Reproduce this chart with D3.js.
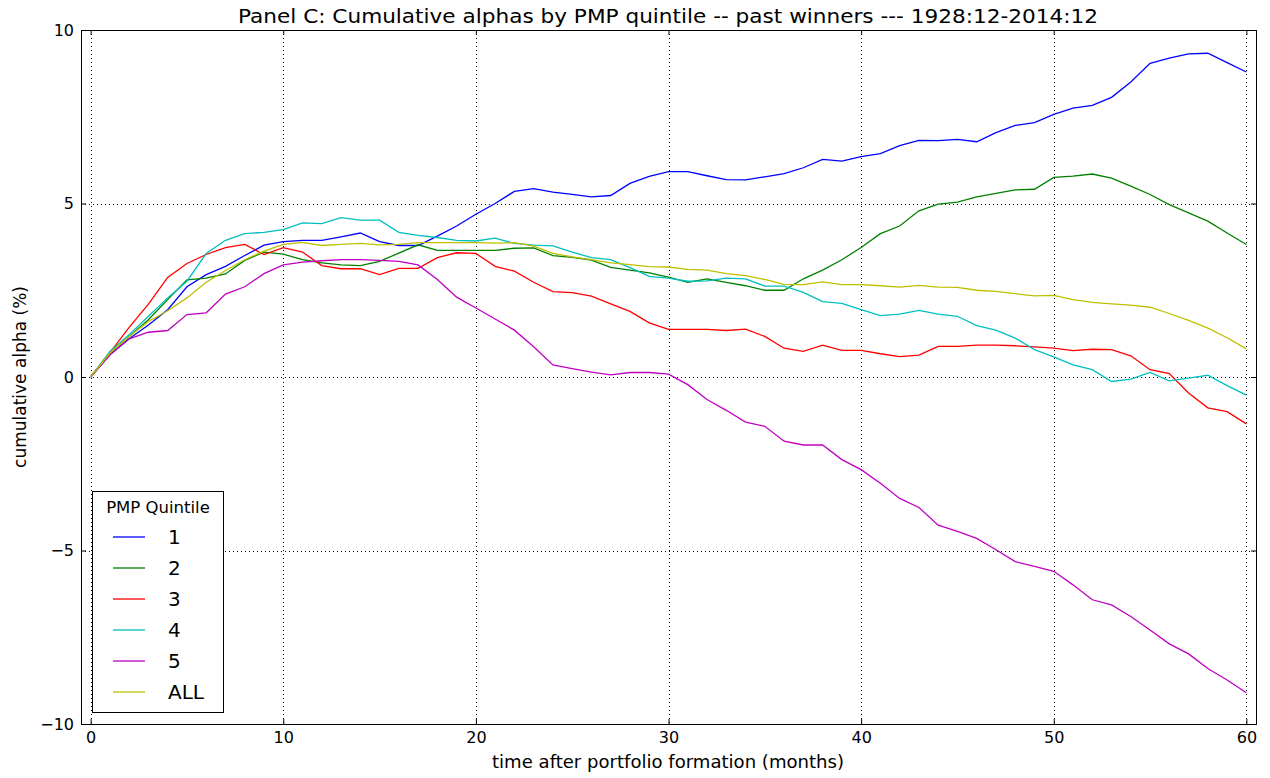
<!DOCTYPE html>
<html>
<head>
<meta charset="utf-8">
<script src="https://cdn.jsdelivr.net/npm/d3@7"></script>
<style>
  body { margin: 0; background: #fff; }
  svg { font-family: "DejaVu Sans", sans-serif; }
</style>
</head>
<body>
<svg width="1270" height="778"></svg>
<script>
var months = d3.range(0, 61);

var q1 = [0, 0.64, 1.1, 1.5, 1.94, 2.6, 2.95, 3.19, 3.5, 3.8, 3.9, 3.94, 3.94, 4.04, 4.15, 3.9,
  3.79, 3.79, 4.06, 4.35, 4.69, 5.0, 5.35, 5.43, 5.33, 5.26, 5.19, 5.23, 5.58, 5.78, 5.92,
  5.92, 5.8, 5.69, 5.68, 5.77, 5.86, 6.03, 6.27, 6.22, 6.35, 6.44, 6.67, 6.82, 6.81, 6.85,
  6.78, 7.04, 7.25, 7.33, 7.57, 7.75, 7.83, 8.06, 8.5, 9.04, 9.19, 9.31, 9.33, 9.06, 8.79];

var q2 = [0, 0.69, 1.17, 1.65, 2.23, 2.8, 2.85, 2.97, 3.36, 3.6, 3.54, 3.38, 3.29, 3.23, 3.21, 3.33,
  3.57, 3.81, 3.65, 3.65, 3.65, 3.65, 3.71, 3.72, 3.5, 3.45, 3.37, 3.16, 3.08, 3.0, 2.88,
  2.73, 2.83, 2.73, 2.63, 2.5, 2.5, 2.83, 3.08, 3.38, 3.73, 4.13, 4.35, 4.79, 4.98, 5.04,
  5.19, 5.29, 5.39, 5.41, 5.75, 5.79, 5.85, 5.73, 5.5, 5.26, 4.97, 4.73, 4.49, 4.15, 3.82];

var q3 = [0, 0.7, 1.43, 2.1, 2.87, 3.27, 3.53, 3.73, 3.82, 3.53, 3.73, 3.6, 3.21, 3.12, 3.12, 2.95,
  3.13, 3.13, 3.44, 3.58, 3.56, 3.19, 3.05, 2.73, 2.46, 2.43, 2.33, 2.11, 1.89, 1.56, 1.37,
  1.37, 1.37, 1.34, 1.38, 1.17, 0.83, 0.74, 0.92, 0.77, 0.77, 0.67, 0.59, 0.63, 0.88, 0.88,
  0.92, 0.92, 0.9, 0.87, 0.83, 0.76, 0.8, 0.79, 0.61, 0.21, 0.1, -0.46, -0.89, -1.0, -1.35];

var q4 = [0, 0.74, 1.22, 1.75, 2.28, 2.76, 3.56, 3.94, 4.13, 4.17, 4.25, 4.44, 4.42, 4.59, 4.52, 4.52,
  4.17, 4.08, 4.02, 3.94, 3.92, 4.0, 3.85, 3.8, 3.78, 3.6, 3.44, 3.38, 3.15, 2.9, 2.85,
  2.76, 2.77, 2.85, 2.83, 2.62, 2.62, 2.44, 2.17, 2.12, 1.94, 1.77, 1.81, 1.92, 1.81, 1.75,
  1.48, 1.35, 1.12, 0.79, 0.58, 0.35, 0.21, -0.13, -0.06, 0.13, -0.11, -0.03, 0.05, -0.25, -0.52];

var q5 = [0, 0.64, 1.1, 1.29, 1.34, 1.8, 1.85, 2.39, 2.6, 2.98, 3.23, 3.31, 3.35, 3.38, 3.38, 3.36,
  3.33, 3.23, 2.81, 2.3, 1.99, 1.67, 1.35, 0.87, 0.35, 0.24, 0.14, 0.06, 0.13, 0.13, 0.08,
  -0.22, -0.65, -0.96, -1.3, -1.42, -1.85, -1.96, -1.96, -2.38, -2.67, -3.06, -3.5, -3.76, -4.27, -4.45,
  -4.65, -4.98, -5.32, -5.46, -5.6, -5.99, -6.42, -6.57, -6.9, -7.29, -7.69, -7.98, -8.4, -8.73, -9.1];

var qAll = [0, 0.69, 1.17, 1.6, 1.91, 2.28, 2.73, 3.07, 3.38, 3.63, 3.82, 3.88, 3.79, 3.82, 3.85, 3.81,
  3.82, 3.87, 3.87, 3.87, 3.87, 3.86, 3.87, 3.77, 3.56, 3.46, 3.38, 3.29, 3.24, 3.18, 3.17,
  3.1, 3.08, 2.98, 2.92, 2.81, 2.67, 2.66, 2.74, 2.66, 2.66, 2.63, 2.59, 2.64, 2.59, 2.58,
  2.5, 2.47, 2.4, 2.34, 2.35, 2.23, 2.15, 2.11, 2.07, 2.01, 1.83, 1.63, 1.41, 1.13, 0.81];

var seriesNames = ["1", "2", "3", "4", "5", "ALL"];
var seriesColors = ["#0000ff", "#008000", "#ff0000", "#00bfbf", "#bf00bf", "#bfbf00"];
var xTicks = [0, 10, 20, 30, 40, 50, 60];
var yTicks = [-10, -5, 0, 5, 10];

var series = [q1, q2, q3, q4, q5, qAll];

var svg = d3.select("svg");
var plotLeft = 81, plotRight = 1256, plotTop = 30, plotBottom = 724;

var x = d3.scaleLinear().domain([-0.5, 60.5]).range([plotLeft, plotRight]);
var y = d3.scaleLinear().domain([-10, 10]).range([plotBottom, plotTop]);

// grid
var grid = svg.append("g");
grid.selectAll("line.gx")
  .data(xTicks)
  .enter()
  .append("line")
  .attr("x1", function (d) { return Math.round(x(d)) + 0.5; })
  .attr("x2", function (d) { return Math.round(x(d)) + 0.5; })
  .attr("y1", plotTop).attr("y2", plotBottom)
  .attr("stroke", "#000").attr("stroke-dasharray", "1,3");
grid.selectAll("line.gy")
  .data(yTicks)
  .enter()
  .append("line")
  .attr("y1", function (d) { return Math.round(y(d)) + 0.5; })
  .attr("y2", function (d) { return Math.round(y(d)) + 0.5; })
  .attr("x1", plotLeft).attr("x2", plotRight)
  .attr("stroke", "#000").attr("stroke-dasharray", "1,3");

// lines
var line = d3.line()
  .x(function (d, i) { return x(months[i]); })
  .y(function (d) { return y(d); });

svg.append("g")
  .selectAll("path")
  .data(series)
  .enter()
  .append("path")
  .attr("d", line)
  .attr("fill", "none")
  .attr("stroke", function (d, i) { return seriesColors[i]; })
  .attr("stroke-width", 1.3);

// axes, ticks inside on all four sides
function tickStyle(g) {
  g.select(".domain").remove();
  g.attr("font-size", 16).attr("font-family", null);
  g.selectAll("text").attr("fill", "#000");
  g.selectAll("line").attr("stroke", "#000");
}

svg.append("g")
  .attr("transform", "translate(0," + plotBottom + ")")
  .call(d3.axisBottom(x).tickValues(xTicks).tickSizeInner(-5).tickSizeOuter(0).tickPadding(8))
  .call(tickStyle);
svg.append("g")
  .attr("transform", "translate(0," + plotTop + ")")
  .call(d3.axisTop(x).tickValues(xTicks).tickSizeInner(-5).tickSizeOuter(0).tickFormat(""))
  .call(tickStyle);
svg.append("g")
  .attr("transform", "translate(" + plotLeft + ",0)")
  .call(d3.axisLeft(y).tickValues(yTicks).tickSizeInner(-5).tickSizeOuter(0).tickPadding(7)
    .tickFormat(function (d) { return d < 0 ? "\u2212" + Math.abs(d) : d; }))
  .call(tickStyle);
svg.append("g")
  .attr("transform", "translate(" + plotRight + ",0)")
  .call(d3.axisRight(y).tickValues(yTicks).tickSizeInner(-5).tickSizeOuter(0).tickFormat(""))
  .call(tickStyle);

svg.append("rect")
  .attr("x", plotLeft + 0.5).attr("y", plotTop + 0.5)
  .attr("width", plotRight - plotLeft).attr("height", plotBottom - plotTop)
  .attr("fill", "none").attr("stroke", "#000").attr("stroke-width", 1);

// labels
svg.append("text")
  .attr("x", 238).attr("y", 23)
  .attr("font-size", 19)
  .attr("textLength", 860).attr("lengthAdjust", "spacingAndGlyphs")
  .text("Panel C: Cumulative alphas by PMP quintile -- past winners --- 1928:12-2014:12");
svg.append("text")
  .attr("x", 492).attr("y", 768)
  .attr("font-size", 17)
  .attr("textLength", 352).attr("lengthAdjust", "spacingAndGlyphs")
  .text("time after portfolio formation (months)");
svg.append("text")
  .attr("transform", "translate(26," + (plotTop + plotBottom) / 2 + ") rotate(-90)")
  .attr("text-anchor", "middle").attr("font-size", 17)
  .text("cumulative alpha (%)");

// legend
var legend = svg.append("g").attr("transform", "translate(92,491)");
legend.append("rect")
  .attr("x", 0.5).attr("y", 0.5).attr("width", 131).attr("height", 221)
  .attr("fill", "#fff").attr("stroke", "#000").attr("stroke-width", 1);
legend.append("text")
  .attr("x", 66).attr("y", 22).attr("text-anchor", "middle").attr("font-size", 16.5)
  .text("PMP Quintile");
var item = legend.selectAll("g.item")
  .data(seriesNames)
  .enter()
  .append("g")
  .attr("transform", function (d, i) { return "translate(0," + (46 + i * 31) + ")"; });
item.append("line")
  .attr("x1", 21).attr("x2", 53)
  .attr("stroke", function (d, i) { return seriesColors[i]; })
  .attr("stroke-width", 1.3);
item.append("text")
  .attr("x", 76).attr("y", 7).attr("font-size", 20)
  .text(function (d) { return d; });
</script>
</body>
</html>
